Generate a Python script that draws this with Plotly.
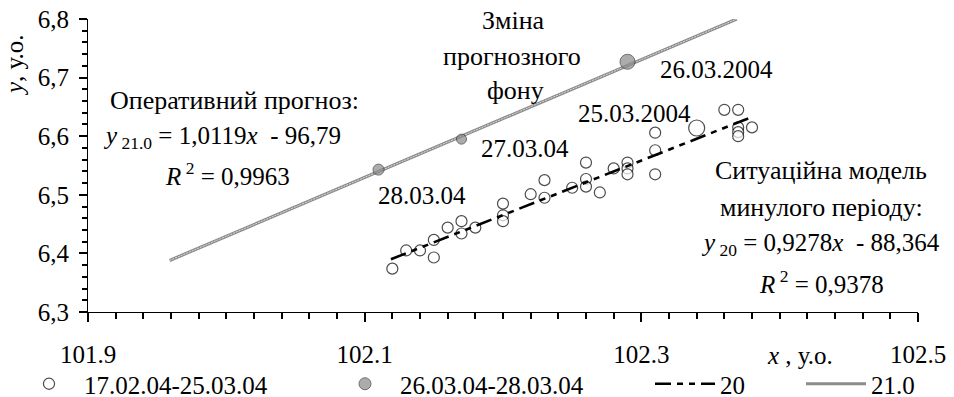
import plotly.graph_objects as go

# ---- data ----
x_past = [102.12, 102.13, 102.14, 102.15, 102.15, 102.16, 102.17, 102.17, 102.18,
          102.20, 102.20, 102.20, 102.22, 102.23, 102.23, 102.25, 102.26, 102.26,
          102.26, 102.27, 102.28, 102.29, 102.29, 102.29, 102.31, 102.31, 102.31,
          102.36, 102.37, 102.37, 102.37, 102.37, 102.38, 102.34]
y_past = [6.374, 6.405, 6.405, 6.423, 6.393, 6.444, 6.455, 6.434, 6.444,
          6.485, 6.465, 6.455, 6.501, 6.525, 6.495, 6.512, 6.555, 6.527,
          6.514, 6.504, 6.545, 6.555, 6.545, 6.535, 6.606, 6.576, 6.535,
          6.645, 6.645, 6.615, 6.607, 6.600, 6.615, 6.614]

x_new = [102.11, 102.17, 102.29]
y_new = [6.543, 6.595, 6.727]

trend20_x = [102.119, 102.378]
trend20_y = [6.390, 6.631]

trend21_x = [101.959, 102.369]
trend21_y = [6.388, 6.800]

x_tickvals = [101.9, 102.1, 102.3, 102.5]
x_ticktext = ["101.9", "102.1", "102.3", "102.5"]
y_tickvals = [6.3, 6.4, 6.5, 6.6, 6.7, 6.8]
y_ticktext = ["6,3", "6,4", "6,5", "6,6", "6,7", "6,8"]

legend_names = ["17.02.04-25.03.04", "26.03.04-28.03.04", "20", "21.0"]

# ---- figure ----
W, H = 954, 397
L, R, T, B = 88, 36, 19, 85
FONT = "Liberation Serif"
FS = 25
FS_CYR = 26
X_RANGE = [101.9, 102.5]
Y_RANGE = [6.3, 6.8]

def pxx(x):
    return (x - L) / (W - L - R)

def pyy(y):
    return (H - B - y) / (H - T - B)

fig = go.Figure()

past_sizes = [11] * (len(x_past) - 1) + [16]
fig.add_trace(go.Scatter(
    x=x_past, y=y_past, mode="markers", name=legend_names[0],
    marker=dict(symbol="circle", size=past_sizes, color="white",
                line=dict(color="black", width=1.2)),
    legend="legend"))

fig.add_trace(go.Scatter(
    x=trend20_x, y=trend20_y, mode="lines", name=legend_names[2],
    line=dict(color="black", width=2.6, dash="16px,6px,6px,6px,6px,6px"),
    legend="legend3"))

fig.add_trace(go.Scatter(
    x=trend21_x, y=trend21_y, mode="lines", name=legend_names[3],
    line=dict(color="#8c8c8c", width=3.2),
    legend="legend4"))
fig.add_trace(go.Scatter(
    x=trend21_x, y=trend21_y, mode="lines", showlegend=False,
    line=dict(color="#dcdcdc", width=1, dash="2px,1px"), hoverinfo="skip"))

new_sizes = [11, 10, 15]
fig.add_trace(go.Scatter(
    x=x_new, y=y_new, mode="markers", name=legend_names[1],
    marker=dict(symbol="circle", size=new_sizes, color="#8a8a8a",
                line=dict(color="#333333", width=1)),
    legend="legend2"))

# invisible trace carrying the overlay axes that hold the major ticks and labels
fig.add_trace(go.Scatter(x=[None], y=[None], xaxis="x2", yaxis="y2", showlegend=False,
                         hoverinfo="skip"))

annos = [
    ("Оперативний прогноз:", 234, 101, FS_CYR),
    ("<i>y</i><sub> 21.0</sub> = 1,0119<i>x</i>  - 96,79", 222, 137, FS),
    ("<i>R</i><sup> 2</sup> = 0,9963", 227, 174, FS),
    ("Зміна", 513, 21, FS_CYR),
    ("прогнозного", 512, 56, FS_CYR),
    ("фону", 515, 90, FS_CYR),
    ("26.03.2004", 716, 69, FS),
    ("25.03.2004", 634, 113, FS),
    ("27.03.04", 525, 148, FS),
    ("28.03.04", 422, 195, FS),
    ("Ситуаційна модель", 821, 170, FS_CYR),
    ("минулого періоду:", 821, 207, FS_CYR),
    ("<i>y</i><sub> 20</sub> = 0,9278<i>x</i>  - 88,364", 820, 244, FS),
    ("<i>R</i><sup> 2</sup> = 0,9378", 821, 282, FS),
    ("<i>x</i> , у.о.", 800, 355, FS),
]
annotations = []
for txt, ax, ay, fs in annos:
    annotations.append(dict(text=txt, x=pxx(ax), y=pyy(ay), xref="paper", yref="paper",
                            xanchor="center", yanchor="middle", showarrow=False,
                            font=dict(family=FONT, size=fs, color="black")))
annotations.append(dict(text="<i>y</i>, у.о.", x=pxx(14), y=pyy(65), xref="paper", yref="paper",
                        xanchor="center", yanchor="middle", showarrow=False, textangle=-90,
                        font=dict(family=FONT, size=FS, color="black")))

def leg(xpix):
    return dict(x=pxx(xpix), y=pyy(384), xref="paper", yref="paper", xanchor="left",
                yanchor="middle", orientation="h", bgcolor="rgba(0,0,0,0)",
                font=dict(family=FONT, size=FS, color="black"), itemwidth=60,
                borderwidth=0)

tick_style = dict(ticks="outside", tickwidth=1.5, tickcolor="black")

fig.update_layout(
    width=W, height=H, margin=dict(l=L, r=R, t=T, b=B, autoexpand=False),
    paper_bgcolor="white", plot_bgcolor="white",
    font=dict(family=FONT, size=FS, color="black"),
    showlegend=True,
    legend=leg(14), legend2=leg(330), legend3=leg(650), legend4=leg(801),
    annotations=annotations,
    # primary axes: axis lines and the small (0.02) ticks
    xaxis=dict(range=X_RANGE, tickmode="linear", tick0=101.9, dtick=0.02,
               showticklabels=False, showgrid=False, zeroline=False,
               showline=True, linecolor="black", linewidth=1.3,
               ticklen=6, **tick_style),
    yaxis=dict(range=Y_RANGE, tickmode="linear", tick0=6.3, dtick=0.02,
               showticklabels=False, showgrid=False, zeroline=False,
               showline=True, linecolor="black", linewidth=1.3,
               ticklen=5, **tick_style),
    # overlay axes: major ticks and labels
    xaxis2=dict(range=X_RANGE, overlaying="x", side="bottom", anchor="y",
                tickmode="array", tickvals=x_tickvals, ticktext=x_ticktext,
                showgrid=False, zeroline=False, showline=False,
                ticklen=9, ticklabelstandoff=11, **tick_style,
                tickfont=dict(family=FONT, size=FS, color="black")),
    yaxis2=dict(range=Y_RANGE, overlaying="y", side="left", anchor="x",
                tickmode="array", tickvals=y_tickvals, ticktext=y_ticktext,
                showgrid=False, zeroline=False, showline=False,
                ticklen=8, ticklabelstandoff=5, **tick_style,
                tickfont=dict(family=FONT, size=FS, color="black")),
)

fig.write_html("out.html")
